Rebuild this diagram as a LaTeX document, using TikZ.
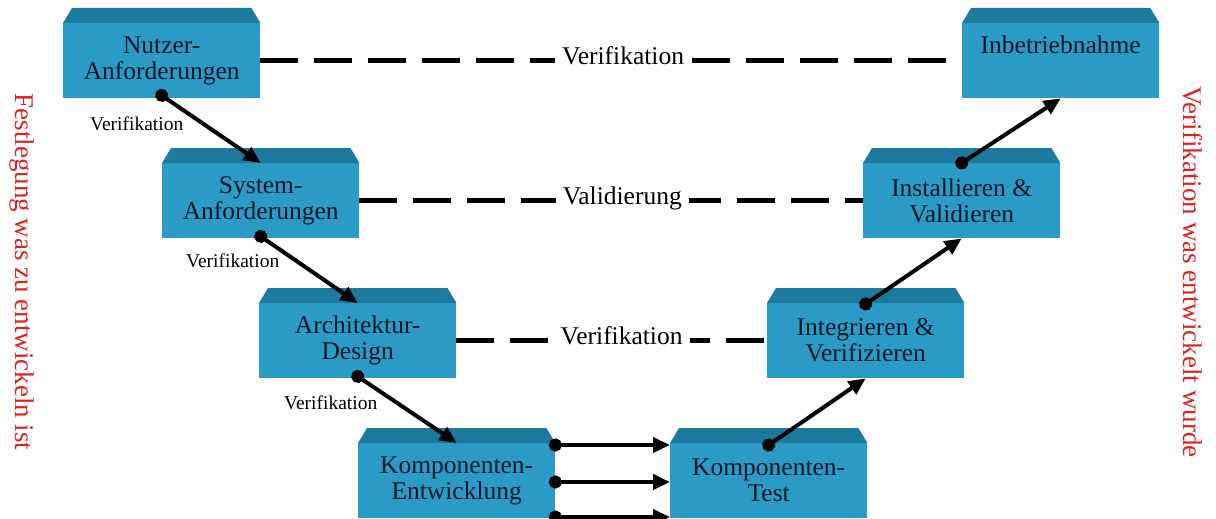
\documentclass[tikz,border=0pt]{standalone}
\usepackage{fontspec}
\setmainfont{Liberation Serif}
\usetikzlibrary{arrows.meta,calc}
\definecolor{boxface}{RGB}{41,155,198}
\definecolor{boxtopc}{RGB}{28,122,158}
\definecolor{sidered}{RGB}{218,34,34}
\definecolor{txtc}{RGB}{12,22,38}
\tikzset{
  vface/.style={fill=boxface, draw=none, minimum width=197pt, minimum height=75pt,
    inner sep=0pt, align=center, anchor=north west, text=txtc,
    font=\fontsize{25.5}{26}\selectfont},
  vtop/.style={fill=boxtopc},
  dashline/.style={line width=4.5pt, dash pattern=on 38pt off 16pt},
  dashlbl/.style={fill=white, inner xsep=7pt, inner ysep=2pt, anchor=base,
    font=\fontsize{25.5}{26}\selectfont},
  arr/.style={line width=4pt, {Circle[length=13pt]}-{Triangle[length=17pt,width=15pt]},
    shorten <=-6.5pt},
  smalllbl/.style={font=\fontsize{19.5}{20}\selectfont, inner sep=0pt},
  sidelbl/.style={text=sidered, rotate=-90, font=\fontsize{27}{28}\selectfont}
}
\begin{document}
\begin{tikzpicture}[x=1pt,y=-1pt]
\useasboundingbox (0,0) rectangle (1216,519);
\clip (0,0) rectangle (1216,519);

% boxes
\node[vface] (B1) at (63,23) {Nutzer-\\Anforderungen};
\node[vface] (B2) at (162,163) {System-\\Anforderungen};
\node[vface] (B3) at (259,303) {Architektur-\\Design};
\node[vface] (B4) at (358,443) {Komponenten-\\Entwicklung};
\node[vface] (B5) at (670,443) {Komponenten-\\Test};
\node[vface] (B6) at (767,303) {Integrieren \&\\Verifizieren};
\node[vface] (B7) at (863,163) {Installieren \&\\Validieren};
\node[vface] (B8) at (962,23) {Inbetriebnahme\\\phantom{g}};

\foreach \b in {B1,B2,B3,B4,B5,B6,B7,B8}{
  \fill[vtop] (\b.north west) -- ([xshift=9pt,yshift=15pt]\b.north west)
    -- ([xshift=-9pt,yshift=15pt]\b.north east) -- (\b.north east) -- cycle;
}

% dashed links
\draw[dashline] (B1.east) -- (B8.west)
  node[dashlbl, pos=0.517, yshift=-4pt] (V1) {Verifikation};
\draw[dashline] (B2.east) -- (B7.west)
  node[dashlbl, pos=0.522, yshift=-4pt] (V2) {Validierung};
\draw[dashline] (B3.east) -- (B6.west)
  node[dashlbl, pos=0.532, yshift=-4pt] (V3) {Verifikation};

% left branch
\draw[arr] ([yshift=3pt]B1.south) -- (B2.north)
  node[smalllbl, pos=0, xshift=-25pt, yshift=-28pt] (s1) {Verifikation};
\draw[arr] ([yshift=2pt]B2.south) -- (B3.north)
  node[smalllbl, pos=0, xshift=-28pt, yshift=-24pt] (s2) {Verifikation};
\draw[arr] ([yshift=2pt]B3.south) -- (B4.north)
  node[smalllbl, pos=0, xshift=-27pt, yshift=-26pt] (s3) {Verifikation};

% bottom
\draw[arr] ([yshift=-2pt]B4.north east) -- ([yshift=-2pt]B5.north west);
\draw[arr] ([yshift=-39pt]B4.north east) -- ([yshift=-39pt]B5.north west);
\draw[arr] ([yshift=-74pt]B4.north east) -- ([yshift=-74pt]B5.north west);

% right branch
\draw[arr] ([yshift=-2pt]B5.north) -- (B6.south);
\draw[arr] ([yshift=-1pt]B6.north) -- (B7.south);
\draw[arr] (B7.north) -- (B8.south);

% side labels
\node[sidelbl] (L) at (22,272) {Festlegung was zu entwickeln ist};
\node[sidelbl] (R) at (1193,272) {Verifikation was entwickelt wurde};
\end{tikzpicture}
\end{document}
